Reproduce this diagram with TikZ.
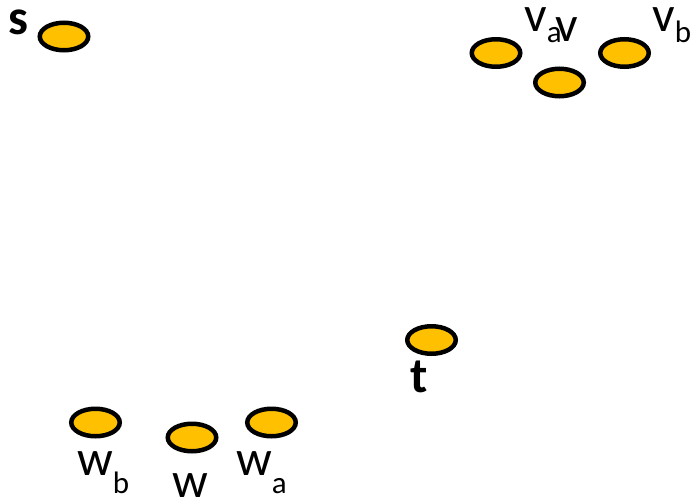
\documentclass[tikz,border=0pt]{standalone}
\usepackage{fontspec}
\setmainfont{Carlito}
\usetikzlibrary{shapes.geometric}
\definecolor{gold}{HTML}{FFC000}
\newcommand{\subf}[1]{{\fontsize{31}{31}\selectfont #1}}
\tikzset{
  vert/.style={ellipse, draw=black, fill=gold, line width=4.5pt, inner sep=0pt,
    minimum width=48.5pt, minimum height=27.5pt},
  lab/.style={inner sep=0pt, anchor=base west, font=\fontsize{50}{50}\selectfont},
  blab/.style={lab, font=\fontsize{50}{50}\selectfont\bfseries}
}
\begin{document}
\begin{tikzpicture}[x=1pt,y=-1pt]
\useasboundingbox (0,0) rectangle (692,500);
\node[vert] (s) at (64,36.5) {};
\node[vert] (va) at (496,53) {};
\node[vert] (v) at (559.5,82.5) {};
\node[vert] (vb) at (624.5,53) {};
\node[vert] (t) at (431.5,340) {};
\node[vert] (wb) at (95.5,422.5) {};
\node[vert] (w) at (192,437.5) {};
\node[vert] (wa) at (271.5,422.5) {};
\node[blab] (ls) at (8,35) {s};
\node[blab] (lt) at (410,392) {t};
\node[lab] (lva) at (524,32) {v\raisebox{-11pt}{\subf{a}}};
\node[lab] (lv) at (555,42) {v};
\node[lab] (lvb) at (652,32) {v\raisebox{-11pt}{\subf{b}}};
\node[lab] (lwb) at (77,475) {w\raisebox{-18pt}{\subf{b}}};
\node[lab] (lw) at (172,497) {w};
\node[lab] (lwa) at (236,475) {w\raisebox{-18pt}{\subf{a}}};
\end{tikzpicture}
\end{document}
